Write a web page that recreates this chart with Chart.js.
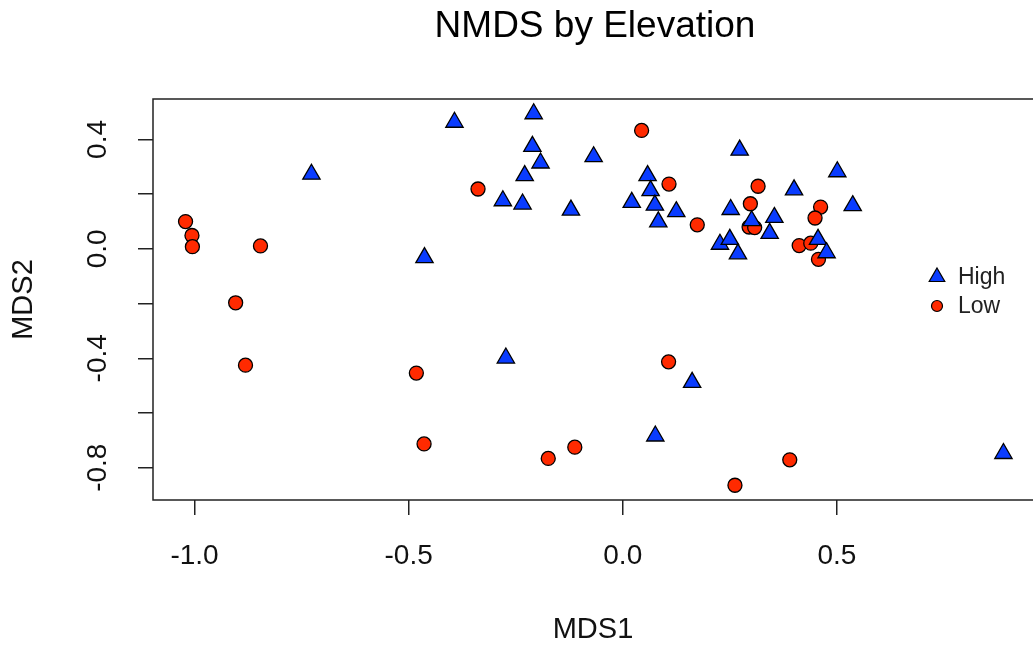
<!DOCTYPE html>
<html>
<head>
<meta charset="utf-8">
<title>NMDS by Elevation</title>
<script src="https://cdn.jsdelivr.net/npm/chart.js@4/dist/chart.umd.min.js"></script>
<style>
  html, body { margin: 0; padding: 0; background: #fff; overflow: hidden; }
  canvas { display: block; }
</style>
</head>
<body>
<canvas id="nmdsChart" width="1033" height="648"></canvas>
<script>
// NMDS site scores, split by elevation group
var highX = [-0.727, -0.463, -0.393, -0.208, -0.211, -0.192, -0.229, -0.068, -0.280, -0.234,
             -0.121, 0.021, 0.058, 0.065, 0.075, 0.083, 0.125, 0.252, 0.227, 0.250,
             0.269, 0.273, 0.501, 0.400, 0.537, 0.354, 0.343, 0.301, 0.456, 0.476,
             -0.273, 0.162, 0.076, 0.889];
var highY = [0.273, -0.032, 0.463, 0.494, 0.375, 0.314, 0.268, 0.337, 0.176, 0.164,
             0.142, 0.170, 0.268, 0.213, 0.160, 0.099, 0.136, 0.144, 0.017, 0.035,
             -0.018, 0.361, 0.282, 0.216, 0.158, 0.115, 0.057, 0.103, 0.035, -0.014,
             -0.399, -0.488, -0.684, -0.748];

var lowX = [-1.021, -1.006, -1.005, -0.846, -0.904, -0.881, -0.482, -0.464, -0.338, 0.044,
            0.108, 0.174, 0.316, 0.298, 0.295, 0.308, 0.462, 0.449, 0.412, 0.439,
            0.457, 0.107, -0.112, -0.174, 0.262, 0.390];
var lowY = [0.100, 0.049, 0.008, 0.011, -0.197, -0.425, -0.454, -0.713, 0.219, 0.433,
            0.237, 0.088, 0.229, 0.165, 0.080, 0.078, 0.153, 0.113, 0.012, 0.021,
            -0.038, -0.413, -0.725, -0.766, -0.864, -0.771];

var xTickValues = [-1.0, -0.5, 0.0, 0.5];
var xTickLabels = ['-1.0', '-0.5', '0.0', '0.5'];
var yTickValues = [-0.8, -0.6, -0.4, -0.2, 0.0, 0.2, 0.4];
var yTickLabels = ['-0.8', '', '-0.4', '', '0.0', '', '0.4'];

var FONT = '"Liberation Sans", Arial, Helvetica, sans-serif';

function toPoints(xs, ys) {
  return xs.map(function (x, i) { return { x: x, y: ys[i] }; });
}

// box around the plotting region, like base R graphics
var framePlugin = {
  id: 'frame',
  afterDraw: function (chart) {
    var a = chart.chartArea, ctx = chart.ctx;
    ctx.save();
    ctx.strokeStyle = '#222';
    ctx.lineWidth = 1.5;
    ctx.strokeRect(a.left, a.top, a.right - a.left + 6, a.bottom - a.top);
    ctx.restore();
  }
};

// main title centred over the plot region
var plotTitle = {
  id: 'plotTitle',
  afterDraw: function (chart) {
    var a = chart.chartArea, ctx = chart.ctx;
    ctx.save();
    ctx.font = '37px ' + FONT;
    ctx.fillStyle = '#000';
    ctx.textAlign = 'center';
    ctx.textBaseline = 'alphabetic';
    ctx.fillText('NMDS by Elevation', (a.left + a.right) / 2 + 2, 37);
    ctx.restore();
  }
};

// small legend inside the plot, right side
var sideLegend = {
  id: 'sideLegend',
  afterDraw: function (chart) {
    var ctx = chart.ctx;
    var x = 937, y = 277, rowGap = 29;
    var sizes = [9, 5.5];
    ctx.save();
    chart.data.datasets.forEach(function (ds, i) {
      var cy = y + i * rowGap;
      ctx.fillStyle = ds.backgroundColor;
      ctx.strokeStyle = ds.borderColor;
      ctx.lineWidth = 1.2;
      Chart.helpers.drawPoint(ctx, { pointStyle: ds.pointStyle, radius: sizes[i], rotation: 0, borderWidth: 1.2 }, x, cy);
      ctx.fillStyle = '#222';
      ctx.font = '23px ' + FONT;
      ctx.textAlign = 'left';
      ctx.textBaseline = 'middle';
      ctx.fillText(ds.label, x + 21, cy + 1);
    });
    ctx.restore();
  }
};

var ctx = document.getElementById('nmdsChart').getContext('2d');
var nmdsChart = new Chart(ctx, {
  type: 'scatter',
  data: {
    datasets: [{
      label: 'High',
      data: toPoints(highX, highY),
      pointStyle: 'triangle',
      pointRadius: 10,
      backgroundColor: '#0a3cff',
      borderColor: '#000',
      borderWidth: 1.3
    }, {
      label: 'Low',
      data: toPoints(lowX, lowY),
      pointStyle: 'circle',
      pointRadius: 7,
      backgroundColor: '#ff2a00',
      borderColor: '#000',
      borderWidth: 1.3
    }]
  },
  options: {
    responsive: false,
    animation: false,
    devicePixelRatio: 1,
    layout: { autoPadding: false, padding: { top: 99, right: 0, left: 0, bottom: 0 } },
    plugins: {
      legend: { display: false },
      tooltip: { enabled: false }
    },
    scales: {
      x: {
        type: 'linear',
        min: -1.097,
        max: 0.958,
        afterBuildTicks: function (scale) {
          scale.ticks = xTickValues.map(function (v) { return { value: v }; });
        },
        afterFit: function (scale) {
          scale.height = 148;
          scale.paddingLeft = 0;
          scale.paddingRight = 0;
        },
        grid: { drawOnChartArea: false, drawTicks: true, tickLength: 15, color: '#222', lineWidth: 1.5 },
        border: { display: false },
        ticks: {
          autoSkip: false,
          maxRotation: 0,
          padding: 24,
          color: '#111',
          font: { family: FONT, size: 28 },
          callback: function (value, index) { return xTickLabels[index]; }
        },
        title: {
          display: true,
          text: 'MDS1',
          color: '#111',
          font: { family: FONT, size: 29, lineHeight: 1.2 },
          padding: { top: 0, bottom: 1 }
        }
      },
      y: {
        type: 'linear',
        min: -0.918,
        max: 0.548,
        afterBuildTicks: function (scale) {
          scale.ticks = yTickValues.map(function (v) { return { value: v }; });
        },
        afterFit: function (scale) {
          scale.width = 153;
          scale.paddingTop = 0;
          scale.paddingBottom = 0;
        },
        grid: { drawOnChartArea: false, drawTicks: true, tickLength: 15, color: '#222', lineWidth: 1.5 },
        border: { display: false },
        ticks: {
          autoSkip: false,
          minRotation: 90,
          maxRotation: 90,
          crossAlign: 'center',
          padding: 16,
          color: '#111',
          font: { family: FONT, size: 28 },
          callback: function (value, index) { return yTickLabels[index]; }
        },
        title: {
          display: true,
          text: 'MDS2',
          color: '#111',
          font: { family: FONT, size: 29, lineHeight: 1.2 },
          padding: { top: 7, bottom: 0 }
        }
      }
    }
  },
  plugins: [framePlugin, plotTitle, sideLegend]
});
</script>
</body>
</html>
